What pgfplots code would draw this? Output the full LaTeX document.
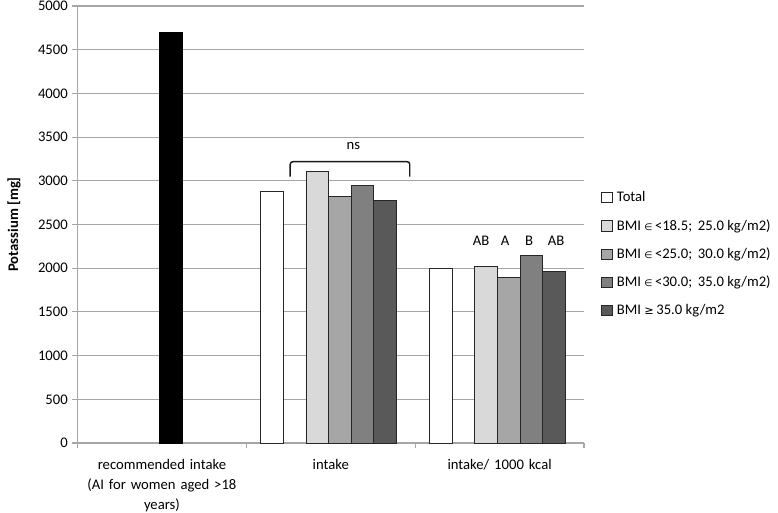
\documentclass[border=0pt]{standalone}
\usepackage{fontspec}
\setmainfont{Carlito}
\newfontfamily\symfont{DejaVu Sans}
\usepackage{pgfplots}
\pgfplotsset{compat=1.18}
\definecolor{gridc}{RGB}{166,166,166}
\definecolor{c1}{RGB}{217,217,217}
\definecolor{c2}{RGB}{166,166,166}
\definecolor{c3}{RGB}{128,128,128}
\definecolor{c4}{RGB}{89,89,89}
\newcommand{\inn}{{\symfont\fontsize{7}{8}\selectfont ∈}}
\newcommand{\gee}{{\symfont\fontsize{8.5}{8}\selectfont ≥}}
\newcommand{\fs}{\fontsize{11}{13}\selectfont}
\begin{document}
\begin{tikzpicture}
\useasboundingbox (-58.125pt,-51.75pt) rectangle (525.375pt,332.25pt);
\begin{axis}[
  scale only axis,
  width=379.875pt, height=327.75pt,
  xmin=-0.5, xmax=2.5, ymin=0, ymax=5000,
  ytick distance=500,
  ymajorgrids, grid style={gridc, line width=0.8pt},
  axis x line*=bottom, axis y line*=left,
  axis line style={gridc, line width=0.8pt, -},
  xtick={0,1,2},
  xticklabels={{recommended intake\\(AI for women aged >18\\years)},{intake},{intake/ 1000 kcal}},
  minor xtick={-0.5,0.5,1.5,2.5},
  tick align=outside,
  major tick length=3.75pt,
  minor tick length=3.75pt,
  x tick style={draw=none},
  minor x tick style={draw=gridc, line width=0.8pt},
  y tick style={gridc, line width=0.8pt},
  xticklabel style={align=center, text width=125pt, font=\fontsize{11}{15}\selectfont, yshift=-5pt},
  yticklabel style={font=\fs, /pgf/number format/1000 sep={}},
  /pgf/number format/assume math mode=true,
  ylabel={\bfseries Potassium [mg]},
  ylabel style={at={(axis description cs:-0.1254,0.5)}, anchor=center, rotate=0, font=\fs},
  ybar, bar width=0.134,
  legend style={at={(axis description cs:1.026,0.588)}, anchor=north west, draw=none, fill=none,
     font=\fs, row sep=7.7pt},
  legend cell align=left,
  legend image code/.code={\draw[#1,draw=black!85,line width=0.5pt] (0pt,-3.8pt) rectangle (7.6pt,3.8pt);},
  clip=false,
]
\addplot[fill=white, draw=black!85, line width=0.6pt, bar shift=-0.348] coordinates {(1,2880) (2,2002)};
\addlegendentry{\hspace*{1.5pt}Total}
\addplot[fill=c1, draw=black!85, line width=0.6pt, bar shift=-0.080] coordinates {(1,3112) (2,2025)};
\addlegendentry{\hspace*{1.5pt}BMI \inn\,<18.5;\, 25.0 kg/m2)}
\addplot[fill=c2, draw=black!85, line width=0.6pt, bar shift=0.054] coordinates {(1,2822) (2,1892)};
\addlegendentry{\hspace*{1.5pt}BMI \inn\,<25.0;\, 30.0 kg/m2)}
\addplot[fill=c3, draw=black!85, line width=0.6pt, bar shift=0.188] coordinates {(1,2944) (2,2147)};
\addlegendentry{\hspace*{1.5pt}BMI \inn\,<30.0;\, 35.0 kg/m2)}
\addplot[fill=c4, draw=black!85, line width=0.6pt, bar shift=0.322] coordinates {(1,2777) (2,1968)};
\addlegendentry{\hspace*{1.5pt}BMI \gee\,35.0 kg/m2}
\addplot[fill=black, draw=black, line width=0.6pt, bar shift=0.054, forget plot] coordinates {(0,4700)};
% annotations
\draw[black!90, line width=1.1pt, rounded corners=2pt] (axis cs:0.760,3047) -- (axis cs:0.760,3219) -- (axis cs:1.468,3219) -- (axis cs:1.468,3047);
\node[font=\fs] at (axis cs:1.134,3398) {ns};
\node[font=\fs] at (axis cs:1.890,2315) {AB};
\node[font=\fs] at (axis cs:2.033,2315) {A};
\node[font=\fs] at (axis cs:2.175,2315) {B};
\node[font=\fs] at (axis cs:2.335,2315) {AB};
\end{axis}
\end{tikzpicture}
\end{document}
